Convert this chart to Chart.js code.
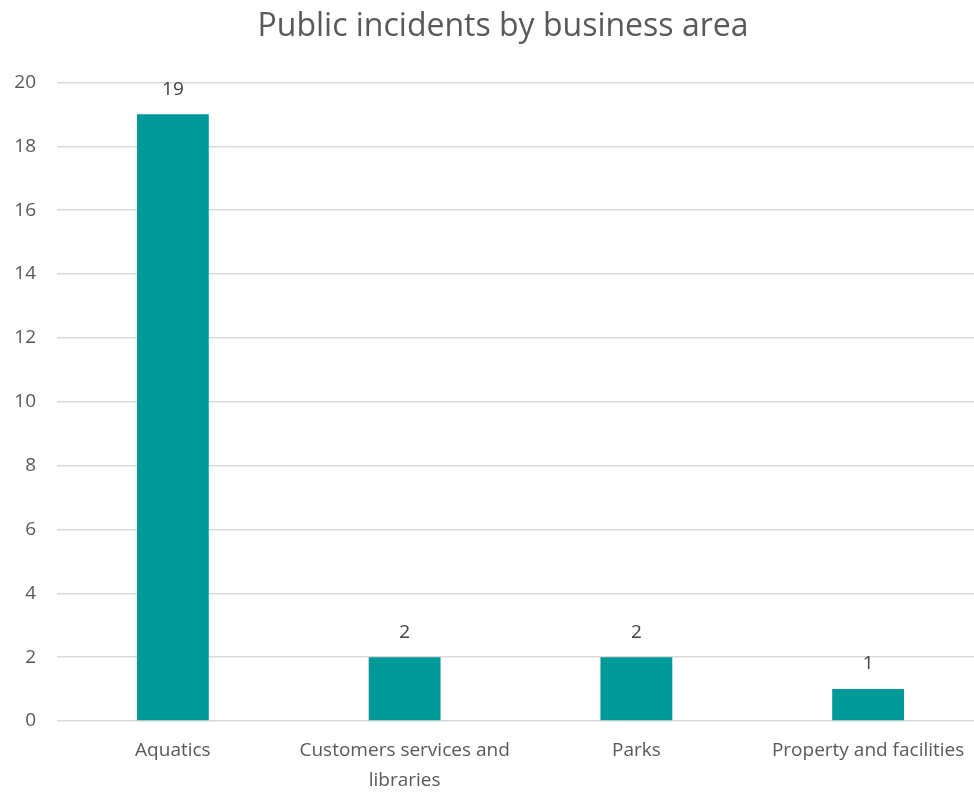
<!DOCTYPE html>
<html>
<head>
<meta charset="utf-8">
<script src="https://cdn.jsdelivr.net/npm/chart.js@4"></script>
<style>
  html, body { margin: 0; padding: 0; background: #fff; overflow: hidden; }
  .wrap { width: 984px; height: 792px; }
</style>
</head>
<body>
<div class="wrap"><canvas id="incidentsChart"></canvas></div>
<script>
const categories = [
  'Aquatics',
  ['Customers services and', 'libraries'],
  'Parks',
  'Property and facilities'
];
const incidents = [19, 2, 2, 1];
const yTicks = [0, 2, 4, 6, 8, 10, 12, 14, 16, 18, 20];

const FONT = "'Open Sans', sans-serif";
const TICK_SIZE = 19;

// value labels drawn above each bar
const valueLabels = {
  id: 'valueLabels',
  afterLayout(chart) {
    // nudge the title a little to the right, over the plot area
    chart.titleBlock.left += 22;
  },
  afterDatasetsDraw(chart) {
    const ctx = chart.ctx;
    const meta = chart.getDatasetMeta(0);
    ctx.save();
    ctx.font = TICK_SIZE + 'px ' + FONT;
    ctx.fillStyle = '#404040';
    ctx.textAlign = 'center';
    ctx.textBaseline = 'middle';
    meta.data.forEach((bar, i) => {
      ctx.fillText(chart.data.datasets[0].data[i], bar.x, bar.y - 25);
    });
    ctx.restore();
  }
};

new Chart(document.getElementById('incidentsChart'), {
  type: 'bar',
  data: {
    labels: categories,
    datasets: [{
      data: incidents,
      backgroundColor: '#009999',
      barPercentage: 1,
      categoryPercentage: 0.31
    }]
  },
  options: {
    responsive: true,
    maintainAspectRatio: false,
    animation: false,
    layout: { padding: { left: 0, right: 0, top: 6, bottom: 0 } },
    plugins: {
      legend: { display: false },
      tooltip: { enabled: false },
      title: {
        display: true,
        text: 'Public incidents by business area',
        color: '#595959',
        font: { family: FONT, size: 32, weight: 'normal' },
        padding: { top: 2, bottom: 36 }
      }
    },
    scales: {
      x: {
        afterFit: axis => { axis.height = 71; },
        grid: { display: false },
        border: { display: false },
        ticks: {
          color: '#595959',
          font: { family: FONT, size: TICK_SIZE, lineHeight: 30 / TICK_SIZE },
          padding: 7,
          maxRotation: 0,
          autoSkip: false
        }
      },
      y: {
        min: 0,
        max: 20,
        afterBuildTicks: axis => { axis.ticks = yTicks.map(v => ({ value: v })); },
        afterFit: axis => { axis.width = 57; },
        grid: { color: '#d9d9d9', lineWidth: 1.5, drawTicks: false },
        border: { display: false },
        ticks: {
          color: '#595959',
          font: { family: FONT, size: TICK_SIZE },
          padding: 21
        }
      }
    }
  },
  plugins: [valueLabels]
});
</script>
</body>
</html>
